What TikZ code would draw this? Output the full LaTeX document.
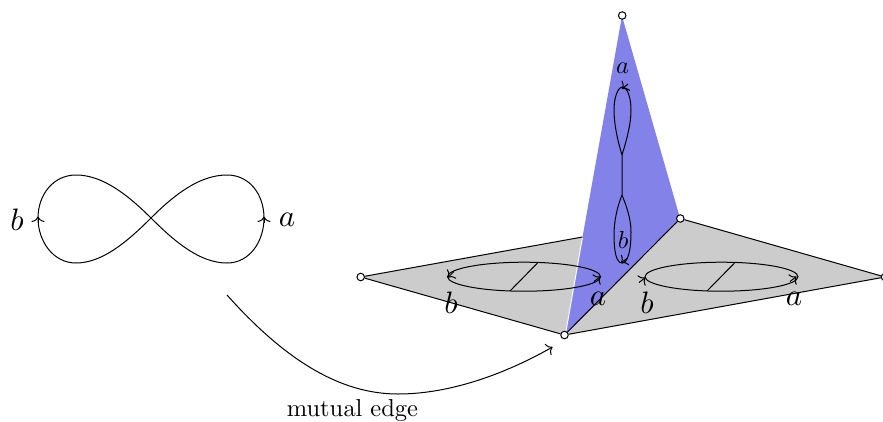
\documentclass[tikz,border=0pt]{standalone}
\usetikzlibrary{arrows.meta}
\definecolor{sheetgray}{RGB}{204,204,204}
\definecolor{sheetblue}{RGB}{130,130,232}
\font\bigmi=cmmi10 at 31pt
\font\smallmi=cmmi10 at 24.5pt
\font\capfont=cmr10 at 24.5pt
\tikzset{
  curve/.style={draw=black,line width=1pt},
  edgeline/.style={draw=black,line width=1pt},
  tipped/.style={draw=black,line width=1pt,-{Computer Modern Rightarrow[length=5.5pt,width=13pt]}},
  vertexdot/.style={circle,draw=black,fill=white,line width=1pt,inner sep=0pt,minimum size=7.5pt},
  biglabel/.style={inner sep=0pt,font=\bigmi},
  smalllabel/.style={inner sep=0pt,font=\smallmi},
  caption/.style={inner sep=0pt,font=\capfont},
}
\begin{document}
\begin{tikzpicture}[x=1pt,y=-1pt]
\useasboundingbox (0,0) rectangle (883,421);
\clip (0,0) rectangle (883,421);
% sheets
\fill[sheetgray] (361,277) -- (582.5,237) -- (565,335) -- cycle;
\fill[sheetgray] (565,335) -- (680,218) -- (885,277) -- cycle;
\fill[sheetblue] (622,16) -- (680,218) -- (565,335) -- cycle;
\draw[white,line width=1pt] (582.5,237) -- (566,331);
\coordinate (T) at (582.5,237);
\node[vertexdot] (vtop) at (622.2,15.5) {};
\node[vertexdot] (vback) at (680.3,218.5) {};
\node[vertexdot] (vfront) at (564.5,335) {};
\node[vertexdot] (vleft) at (360.7,277) {};
\node[vertexdot] (vright) at (885,277) {};
\draw[edgeline] (vleft) -- (T);
\draw[edgeline] (vleft) -- (vfront);
\draw[edgeline] (vfront) -- (vback);
\draw[edgeline] (vback) -- (vright);
\draw[edgeline] (vfront) -- (vright);
% figure eight
\coordinate (c8) at (151,218);
\draw[curve] (c8) .. controls (175,194) and (200,175) .. (227,175)
  .. controls (250,175) and (264,195) .. (264,218)
  .. controls (264,241) and (250,263) .. (227,263)
  .. controls (200,263) and (175,242) .. (c8)
  .. controls (127,194) and (102,175) .. (76,175)
  .. controls (53,175) and (38,195) .. (38,218)
  .. controls (38,241) and (53,263) .. (76,263)
  .. controls (102,263) and (127,242) .. (c8);
\draw[tipped] (264,223) -- (264,216.5);
\draw[tipped] (38,223) -- (38,216.5);
\node[biglabel] (lb8) at (17,219.5) {b};
\node[biglabel] (la8) at (287,219.5) {a};
% ellipses
\draw[curve] (524,276.7) ellipse [x radius=76.5, y radius=14.5];
\draw[curve] (538,262.5) -- (510,291);
\draw[tipped] (454,271.5) -- (448,277.5);
\draw[tipped] (594,281.5) -- (600.5,276.5);
\node[biglabel] (lb1) at (451,302.5) {b};
\node[biglabel] (la1) at (598,299) {a};
\draw[curve] (721.5,276.7) ellipse [x radius=76.5, y radius=14.5];
\draw[curve] (735,262.5) -- (707,291);
\draw[tipped] (639,282.5) -- (645.5,277.5);
\draw[tipped] (790,281.5) -- (796.5,276.5);
\node[biglabel] (lb2) at (647,302.5) {b};
\node[biglabel] (la2) at (794,299) {a};
% loops on blue
\coordinate (m1) at (622,155);
\coordinate (m2) at (622,195);
\draw[curve] (m1) .. controls (618,142) and (614,125) .. (614,110)
  .. controls (614,97) and (618,87) .. (622.5,87)
  .. controls (627,87) and (631,97) .. (631,110)
  .. controls (631,125) and (626,142) .. (m1) -- (m2)
  .. controls (617,207) and (614,222) .. (614,235)
  .. controls (614,250) and (616,263) .. (622,263)
  .. controls (628,263) and (631,250) .. (631,232)
  .. controls (631,218) and (626,205) .. (m2);
\draw[tipped] (628,84) -- (622,89);
\draw[tipped] (627.5,258) -- (621,263);
\node[smalllabel] (la3) at (622.5,68.5) {a};
\node[smalllabel] (lb3) at (623,240) {b};
% mutual edge
\coordinate (start) at (227,295);
\coordinate (stop) at (552.5,347);
\draw[tipped] (start) .. controls (285,360) and (340,394) .. (398,394)
  .. controls (450,394) and (505,374) .. (stop);
\node[caption,anchor=base] (me) at (352.5,416) {mutual edge};
\end{tikzpicture}
\end{document}
